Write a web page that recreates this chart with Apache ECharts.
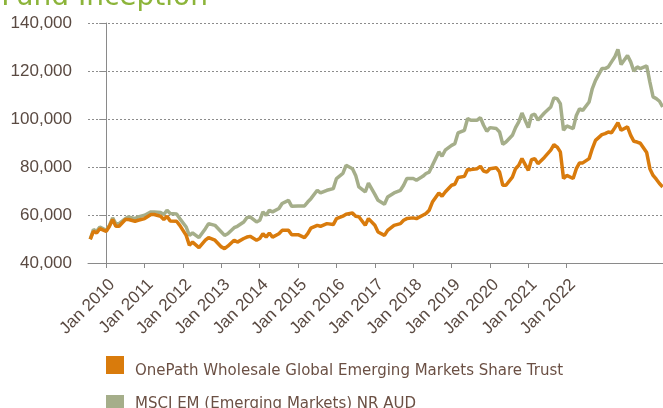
<!DOCTYPE html>
<html>
<head>
<meta charset="utf-8">
<script src="https://cdn.jsdelivr.net/npm/echarts@6/dist/echarts.min.js"></script>
<style>
  html, body { margin: 0; padding: 0; background: #fff; }
  #chart { width: 663px; height: 408px; }
</style>
</head>
<body>
<div id="chart"></div>
<script>
const titleText = 'Fund Inception'
const seriesNames = [
  'OnePath Wholesale Global Emerging Markets Share Trust',
  'MSCI EM (Emerging Markets) NR AUD',
]

// position in months, 0 = the "Jan 2010" tick
const months = [
  -5, -4, -3, -2, 0, 1, 2, 3, 4, 6,
  7, 9, 10, 12, 14, 15, 17, 18, 19, 20,
  22, 23, 25, 26, 27, 29, 31, 32, 34, 36,
  37, 38, 40, 41, 43, 44, 45, 47, 48, 49,
  50, 51, 52, 54, 55, 57, 58, 60, 62, 63,
  64, 66, 67, 69, 71, 72, 74, 75, 77, 78,
  79, 81, 82, 84, 85, 87, 88, 90, 92, 93,
  94, 96, 97, 99, 100, 101, 102, 104, 105, 106,
  108, 109, 110, 112, 113, 114, 116, 117, 118, 119,
  120, 122, 123, 124, 125, 127, 128, 129, 130, 132,
  133, 134, 135, 137, 139, 140, 141, 142, 143, 144,
  146, 147, 148, 149, 151, 152, 153, 155, 156, 157,
  158, 159, 160, 161, 163, 164, 165, 166, 167, 169,
  170, 171, 172, 173, 174,
]

const onePath = [
  49900, 53200, 52500, 54300, 53200, 55300, 58100, 55300, 55300, 58100,
  58100, 57400, 57800, 58500, 60200, 60200, 59500, 58100, 59500, 57500,
  57400, 55700, 51500, 47400, 48700, 46400, 49500, 50600, 49500, 46700,
  46000, 47000, 49500, 48700, 50200, 50800, 51100, 49500, 50200, 52200,
  50800, 52500, 50800, 52200, 53600, 53600, 51800, 51800, 50600, 52200,
  54500, 55700, 55300, 56400, 56000, 58500, 59500, 60300, 60800, 59500,
  59300, 55700, 58500, 55700, 52900, 51500, 53600, 55700, 56400, 57800,
  58500, 58800, 58500, 59900, 60600, 62000, 65400, 69200, 67800, 69600,
  72400, 72800, 75600, 76100, 79000, 78900, 79300, 80300, 78300, 77900,
  79300, 79700, 77900, 72400, 72400, 75800, 79300, 80700, 83500, 78600,
  83100, 83500, 81400, 84000, 87000, 89300, 88300, 86300, 75200, 76500,
  75200, 79300, 81700, 81700, 83500, 87700, 91100, 93500, 93900, 94600,
  94300, 96300, 98500, 95300, 96700, 93200, 90700, 90400, 89900, 86000,
  79300, 76500, 74900, 73100, 71700,
]

const msci = [
  49900, 53900, 53200, 55000, 53600, 55700, 58800, 56400, 56400, 58500,
  59200, 58500, 59200, 59900, 61300, 61300, 61000, 60200, 62000, 60600,
  60400, 58500, 55000, 51500, 52500, 50600, 54300, 56400, 55700, 52900,
  51500, 52200, 54700, 55300, 57100, 58900, 59200, 57100, 57800, 61300,
  59900, 62000, 61300, 62700, 64800, 66100, 63600, 63800, 63800, 65400,
  66800, 70300, 69200, 70300, 71000, 75200, 77300, 80700, 79300, 76500,
  71700, 69600, 73300, 68600, 66100, 64500, 67500, 69200, 70300, 72400,
  75200, 75200, 74500, 76100, 77300, 77900, 80700, 86300, 84500, 87000,
  89000, 89700, 94200, 95300, 100200, 99500, 99500, 100600, 97400, 94900,
  96400, 96000, 94600, 89500, 90400, 93200, 96400, 98800, 102500, 96400,
  101500, 102000, 99500, 102500, 105000, 108800, 108500, 106400, 95300, 97100,
  96000, 101500, 104300, 103600, 107100, 112700, 116100, 121000, 121000, 121700,
  123800, 125800, 129000, 122700, 126500, 123800, 119900, 121700, 121000, 122100,
  115400, 109200, 108500, 107400, 105000,
]

const tickMonths = [0, 12, 24, 36, 48, 60, 72, 84, 96, 108, 120, 132, 144]
const tickYears = [2010, 2011, 2012, 2013, 2014, 2015, 2016, 2017, 2018, 2019, 2020, 2021, 2022]

const labelColor = '#5a4a42'
const axisGray = '#8a8a8a'

const chart = echarts.init(document.getElementById('chart'))

// one legend per row so the second row can sit partly below the bottom edge
function legendRow(name, top, padTop) {
  return {
    orient: 'vertical',
    left: 106,
    top: top,
    padding: 0,
    icon: 'rect',
    itemWidth: 18,
    itemHeight: 18,
    data: [name],
    formatter: (n) => '{t|' + n + '}',
    textStyle: {
      rich: {
        t: {
          fontFamily: 'DejaVu Sans',
          fontSize: 15,
          color: '#6b5044',
          padding: [padTop, 0, 0, 6],
        },
      },
    },
  }
}

const option = {
  animation: false,
  graphic: [
    {
      type: 'text',
      x: 208,
      y: 12,
      style: {
        text: titleText,
        fill: '#8cb43a',
        font: '28px "DejaVu Sans"',
        align: 'right',
        verticalAlign: 'bottom',
      },
    },
  ],
  grid: { left: 88, right: 0, top: 23, bottom: 145, containLabel: false },
  legend: [
    legendRow(seriesNames[0], 356, 13),
    legendRow(seriesNames[1], 395, 0),
  ],
  xAxis: {
    type: 'value',
    min: -5.7,
    max: 174.1,
    axisLine: { show: true, lineStyle: { color: axisGray, width: 1 } },
    axisTick: {
      show: true,
      length: 5,
      customValues: tickMonths,
      lineStyle: { color: axisGray },
    },
    axisLabel: {
      customValues: tickMonths,
      rotate: 45,
      margin: 13,
      verticalAlign: 'top',
      fontFamily: 'Liberation Sans',
      fontSize: 17,
      color: labelColor,
      formatter: (v) => 'Jan ' + tickYears[tickMonths.indexOf(Math.round(v))],
    },
    splitLine: { show: false },
  },
  yAxis: {
    type: 'value',
    min: 40000,
    max: 140000,
    interval: 20000,
    axisLine: { show: true, lineStyle: { color: axisGray, width: 1 } },
    axisTick: { show: true, length: 7, lineStyle: { color: axisGray } },
    axisLabel: {
      margin: 16,
      fontFamily: 'Liberation Sans',
      fontSize: 17,
      color: labelColor,
      formatter: (v) => v.toLocaleString('en-US'),
    },
    splitLine: {
      show: true,
      lineStyle: { color: '#8c8c8c', type: [2, 2], width: 1 },
    },
  },
  series: [
    {
      name: seriesNames[1],
      type: 'line',
      data: months.map((m, i) => [m, msci[i]]),
      showSymbol: false,
      lineStyle: { width: 3.5, color: '#a5ae8a' },
      itemStyle: { color: '#a5ae8a' },
    },
    {
      name: seriesNames[0],
      type: 'line',
      data: months.map((m, i) => [m, onePath[i]]),
      showSymbol: false,
      lineStyle: { width: 3.5, color: '#d97b0c' },
      itemStyle: { color: '#d97b0c' },
    },
  ],
}

chart.setOption(option)
</script>
</body>
</html>
